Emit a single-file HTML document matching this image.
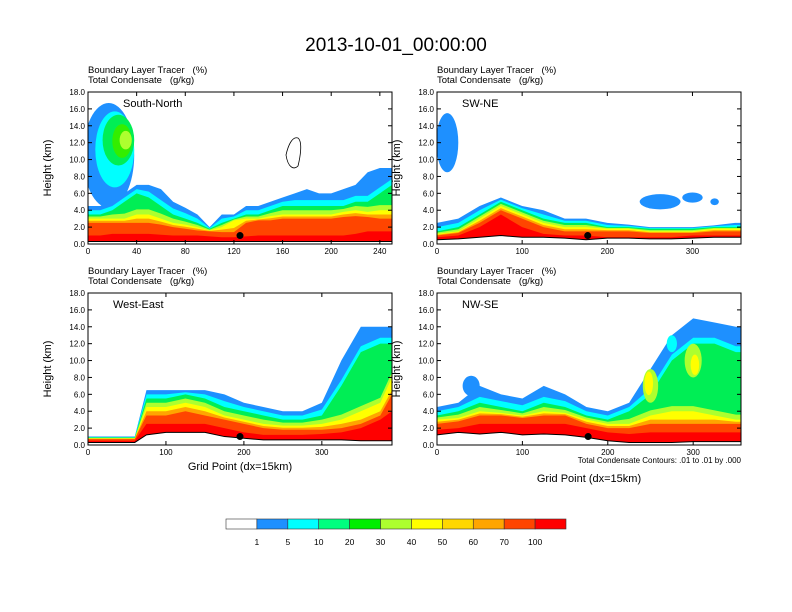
<!DOCTYPE html>
<html><head><meta charset="utf-8"><style>
body{margin:0;background:#fff;}
svg{display:block;font-family:"Liberation Sans",sans-serif;}
</style></head><body>
<svg id="c" width="792" height="612" viewBox="0 0 792 612">
<text x="396" y="51" font-size="19" text-anchor="middle">2013-10-01_00:00:00</text>
</svg>
<script>
// ---- data (km heights of contour layer tops at grid points) ----
const p1x=[0,10,20,30,40,50,60,70,80,90,100,110,120,130,140,150,160,170,180,190,200,210,220,230,240,250];
const p1blue=[4.5,4.5,5,6,7,7,6.5,5,4.3,3.5,2,3.5,3.5,4.5,4.5,5,5.5,6,6.5,6,6,6.5,7,8.5,9,9];
const p1green=[3.5,3.5,4,5,6,5.5,4.5,3.5,3,2.5,1.8,2.5,3,3.5,3.5,4,4.5,4.5,4.5,4.5,4.5,4.5,5,5,6,7];
const p1yellow=[3,3,3,3,3.5,3.5,3,2.5,2.3,2,1.6,2,2.8,3,3,3.3,3.5,3.5,3.5,3.5,3.5,3.8,4,3.8,4,4];
const p1orange=[2.5,2.5,2.5,2.5,2.5,2.5,2.3,2,1.8,1.6,1.5,1.4,1.4,2.5,2.8,2.8,3,3,3,3,3,3.2,3.3,3.2,3,3];
const p1red=[1,1,1.2,1.2,1.2,1.2,1.1,1,1,1,0.9,0.8,0.8,0.9,1,1,1,1,1,1,1,1,1.2,1.5,1.5,1.5];
const p1terrain=[0.3,0.3,0.3,0.3,0.3,0.3,0.3,0.3,0.3,0.3,0.3,0.3,0.3,0.3,0.3,0.3,0.3,0.3,0.3,0.3,0.3,0.3,0.3,0.3,0.3,0.3];
const p1blobs=[[17,10.5,21,6.2,"#1e90ff"],[22,11.2,16,4.5,"#00ffff"],[25,12.3,13,3,"#00ee55"],[28,12.2,8,2,"#33ee00"],[31,12.3,5,1.1,"#adff2f"]];

const p2x=[0,25,50,75,100,125,150,175,200,225,250,275,300,325,350,357];
const p2blue=[2.5,3,4.5,5.5,4.5,4,3,3,2.5,2.3,2,2,2,2.2,2.5,2.5];
const p2green=[1.5,2,3.5,5,4,3,2.5,2.5,2,2,1.8,1.8,1.8,2,2,2];
const p2yellow=[1.2,1.5,3,4.5,3.5,2.5,2,2,1.8,1.8,1.5,1.5,1.5,1.8,1.8,1.8];
const p2orange=[1,1.3,2.5,4,3,2,1.5,1.5,1.5,1.5,1.3,1.3,1.3,1.5,1.5,1.5];
const p2red=[0.8,1,2,3.5,2,1.2,1,1,0.8,0.8,0.8,0.8,1,1,1,1];
const p2terrain=[0.5,0.6,0.8,1,0.8,0.8,0.7,0.5,0.7,0.7,0.6,0.6,0.7,0.8,0.8,0.8];
const p2blobs=[[12,12,13,3.5,"#1e90ff"],[262,5,24,0.9,"#1e90ff"],[300,5.5,12,0.6,"#1e90ff"],[326,5,5,0.4,"#1e90ff"]];

const p3x=[0,25,50,60,75,100,125,150,175,200,225,250,275,300,325,350,375,390];
const p3blue=[1,1,1,1,6.5,6.5,6.5,6.5,6,5,4.5,4,4,5,10,14,14,14];
const p3green=[0.9,0.9,0.9,0.9,5.5,5.5,6,5.5,4.5,4,3.5,3,3,3.5,7,11,12,12];
const p3yellow=[0.8,0.8,0.8,0.8,4.5,4.5,5,4.5,3.5,3,2.5,2.3,2.3,2.5,3,4,5,8];
const p3orange=[0.7,0.7,0.7,0.7,3.5,3.5,4,3.5,3,2.5,2,1.8,1.8,1.8,2,2.5,3.5,6];
const p3red=[0.5,0.5,0.5,0.5,2.5,2.5,2.5,2.5,2,1.5,1.2,1.2,1.2,1.3,1.5,2,3,4];
const p3terrain=[0.3,0.3,0.3,0.3,1.2,1.5,1.5,1.5,1,0.8,0.6,0.6,0.6,0.6,0.6,0.5,0.5,0.5];
const p3blobs=[];

const p4x=[0,25,50,75,100,125,150,175,200,225,250,275,300,325,350,356];
const p4blue=[4.5,5,7,6,5.5,7,6,4.5,4,5,9,13,15,14.5,14,14];
const p4green=[3.5,4,5,4.5,4,5,4.5,3.5,3,4,6,10,12,12,11,11];
const p4yellow=[3,3.2,4,3.8,3.5,4,3.8,3,2.5,2.5,3.5,4,4,3.5,3,3];
const p4orange=[2.5,2.8,3.5,3.5,3.2,3.5,3.5,2.5,2,2,2.5,2.5,2.5,2.5,2.5,2.5];
const p4red=[1.8,2,2.5,2.5,2.5,2.5,2.5,2,1.5,1.3,1.5,1.5,1.5,1.5,1.5,1.5];
const p4terrain=[1.2,1.5,1.3,1.5,1.2,1.3,1.2,0.9,0.5,0.3,0.3,0.3,0.4,0.4,0.4,0.4];
const p4blobs=[[40,7,10,1.2,"#1e90ff"],[250,7,9,2,"#adff2f"],[248,7.3,5,1.4,"#ffff00"],[300,10,10,2,"#adff2f"],[302,9.5,5,1.2,"#ffff00"],[275,12,6,1,"#00ffff"]];

const cbColors=["#ffffff","#1e90ff","#00ffff","#00ff7f","#00ee00","#adff2f","#ffff00","#ffd700","#ffa500","#ff4500","#ff0000"];
const cbLabels=["1","5","10","20","30","40","50","60","70","100"];
const yTicks=[0,2,4,6,8,10,12,14,16,18];

const NS="http://www.w3.org/2000/svg";
const svg=document.getElementById('c');
function mk(tag,attrs,parent){const e=document.createElementNS(NS,tag);for(const k in attrs)e.setAttribute(k,attrs[k]);(parent||svg).appendChild(e);return e;}

const panels=[
 {name:"south-north",label:"South-North",x0:88,y0:92,xmax:250,xt:[0,40,80,120,160,200,240],xs:p1x,L:[p1blue,p1green,p1yellow,p1orange,p1red],t:p1terrain,blobs:p1blobs,dot:[125,1],xtitle:false,top:false},
 {name:"sw-ne",label:"SW-NE",x0:437,y0:92,xmax:357,xt:[0,100,200,300],xs:p2x,L:[p2blue,p2green,p2yellow,p2orange,p2red],t:p2terrain,blobs:p2blobs,dot:[177,1],xtitle:false,top:false},
 {name:"west-east",label:"West-East",x0:88,y0:293,xmax:390,xt:[0,100,200,300],xs:p3x,L:[p3blue,p3green,p3yellow,p3orange,p3red],t:p3terrain,blobs:p3blobs,dot:[195,1],xtitle:true,top:false},
 {name:"nw-se",label:"NW-SE",x0:437,y0:293,xmax:356,xt:[0,100,200,300],xs:p4x,L:[p4blue,p4green,p4yellow,p4orange,p4red],t:p4terrain,blobs:p4blobs,dot:[177,1],xtitle:true,note:true,top:true}
];
const W=304,H=152;
panels.forEach(p=>{
 const g=mk('g',{});
 
 
 const X=v=>p.x0+v/p.xmax*W, Y=v=>p.y0+H-v/18*H;
 const cid='clip-'+p.name;
 const cp=mk('clipPath',{id:cid},g);mk('rect',{x:p.x0,y:p.y0,width:W,height:H},cp);
 const fg=mk('g',{'clip-path':'url(#'+cid+')'},g);
 const drawBlobs=()=>p.blobs.forEach(b=>{const e=mk('ellipse',{cx:X(b[0]),cy:Y(b[1]),rx:b[2]/p.xmax*W,ry:b[3]/18*H,fill:b[4]},fg);
  });
 if(!p.top) drawBlobs();
 const band=(up,lo,m)=>lo.map((v,i)=>v+Math.min(m,(up[i]-v)*0.5));
 const layers=[[p.L[0],"#1e90ff"],[band(p.L[0],p.L[1],0.7),"#00ffff"],[p.L[1],"#00ee55"],[band(p.L[1],p.L[2],0.6),"#adff2f"],[p.L[2],"#ffff00"],[band(p.L[2],p.L[3],0.5),"#ffa500"],[p.L[3],"#ff4500"],[p.L[4],"#ff0000"]];
 layers.forEach(l=>{
  let d='M'+X(p.xs[0])+','+Y(0);
  p.xs.forEach((x,i)=>d+='L'+X(x)+','+Y(l[0][i]));
  d+='L'+X(p.xs[p.xs.length-1])+','+Y(0)+'Z';
  const e=mk('path',{d:d,fill:l[1]},fg);
  
 });
 if(p.top) drawBlobs();
 let d='M'+X(p.xs[0])+','+Y(0);
 p.xs.forEach((x,i)=>d+='L'+X(x)+','+Y(p.t[i]));
 d+='L'+X(p.xs[p.xs.length-1])+','+Y(0)+'Z';
 const tr=mk('path',{d:d,fill:'#fff',stroke:'#000','stroke-width':1},fg);
 
 const dot=mk('circle',{cx:X(p.dot[0]),cy:Y(p.dot[1]),r:3.5,fill:'#000'},g);
 
 const fr=mk('rect',{x:p.x0,y:p.y0,width:W,height:H,fill:'none',stroke:'#000','stroke-width':1},g);
 
 yTicks.forEach(v=>{
  mk('line',{x1:p.x0,x2:p.x0+4,y1:Y(v),y2:Y(v),stroke:'#000'},g);
  mk('line',{x1:p.x0+W,x2:p.x0+W-4,y1:Y(v),y2:Y(v),stroke:'#000'},g);
  const t=mk('text',{x:p.x0-3,y:Y(v)+3,'font-size':8,'text-anchor':'end'},g);t.textContent=v.toFixed(1);
  
 });
 p.xt.forEach(v=>{
  mk('line',{x1:X(v),x2:X(v),y1:p.y0+H,y2:p.y0+H-4,stroke:'#000'},g);
  mk('line',{x1:X(v),x2:X(v),y1:p.y0,y2:p.y0+4,stroke:'#000'},g);
  const t=mk('text',{x:X(v),y:p.y0+H+10,'font-size':8,'text-anchor':'middle'},g);t.textContent=v;
  
 });
 const yt=mk('text',{x:0,y:0,'font-size':11,'text-anchor':'middle',transform:'translate('+(p.x0-37)+','+(p.y0+H/2)+') rotate(-90)'},g);
 yt.textContent='Height (km)';
 const l1=mk('text',{x:p.x0,y:p.y0-19,'font-size':9.5},g);l1.textContent='Boundary Layer Tracer\u00a0\u00a0\u00a0(%)';
 
 const l2=mk('text',{x:p.x0,y:p.y0-9,'font-size':9.5},g);l2.textContent='Total Condensate\u00a0\u00a0\u00a0(g/kg)';
 
 const pl=mk('text',{x:p.x0+(p.name==='south-north'?35:25),y:p.y0+15,'font-size':11},g);pl.textContent=p.label;
 
 if(p.note){const n=mk('text',{x:p.x0+W,y:p.y0+H+18,'font-size':8,'text-anchor':'end'},g);n.textContent='Total Condensate Contours: .01 to .01 by .000';
  }
 if(p.xtitle){const xt=mk('text',{x:p.x0+W/2,y:p.y0+H+(p.note?37:25),'font-size':11,'text-anchor':'middle'},g);xt.textContent='Grid Point (dx=15km)';
  }
});
const c1=mk('path',{d:'M286,155 C288,146 292,136 298,138 C303,142 300,158 298,166 C294,170 288,168 286,155Z',fill:'none',stroke:'#000','stroke-width':0.8});

const cb=mk('g',{});


const cbx=226,cbw=340/cbColors.length;
cbColors.forEach((c,i)=>{const r=mk('rect',{x:cbx+i*cbw,y:519,width:cbw,height:10,fill:c,stroke:'#333','stroke-width':0.6},cb);
 });
cbLabels.forEach((s,i)=>{const t=mk('text',{x:cbx+(i+1)*cbw,y:545,'font-size':8.5,'text-anchor':'middle'},cb);t.textContent=s;
 });
</script>
</body></html>
